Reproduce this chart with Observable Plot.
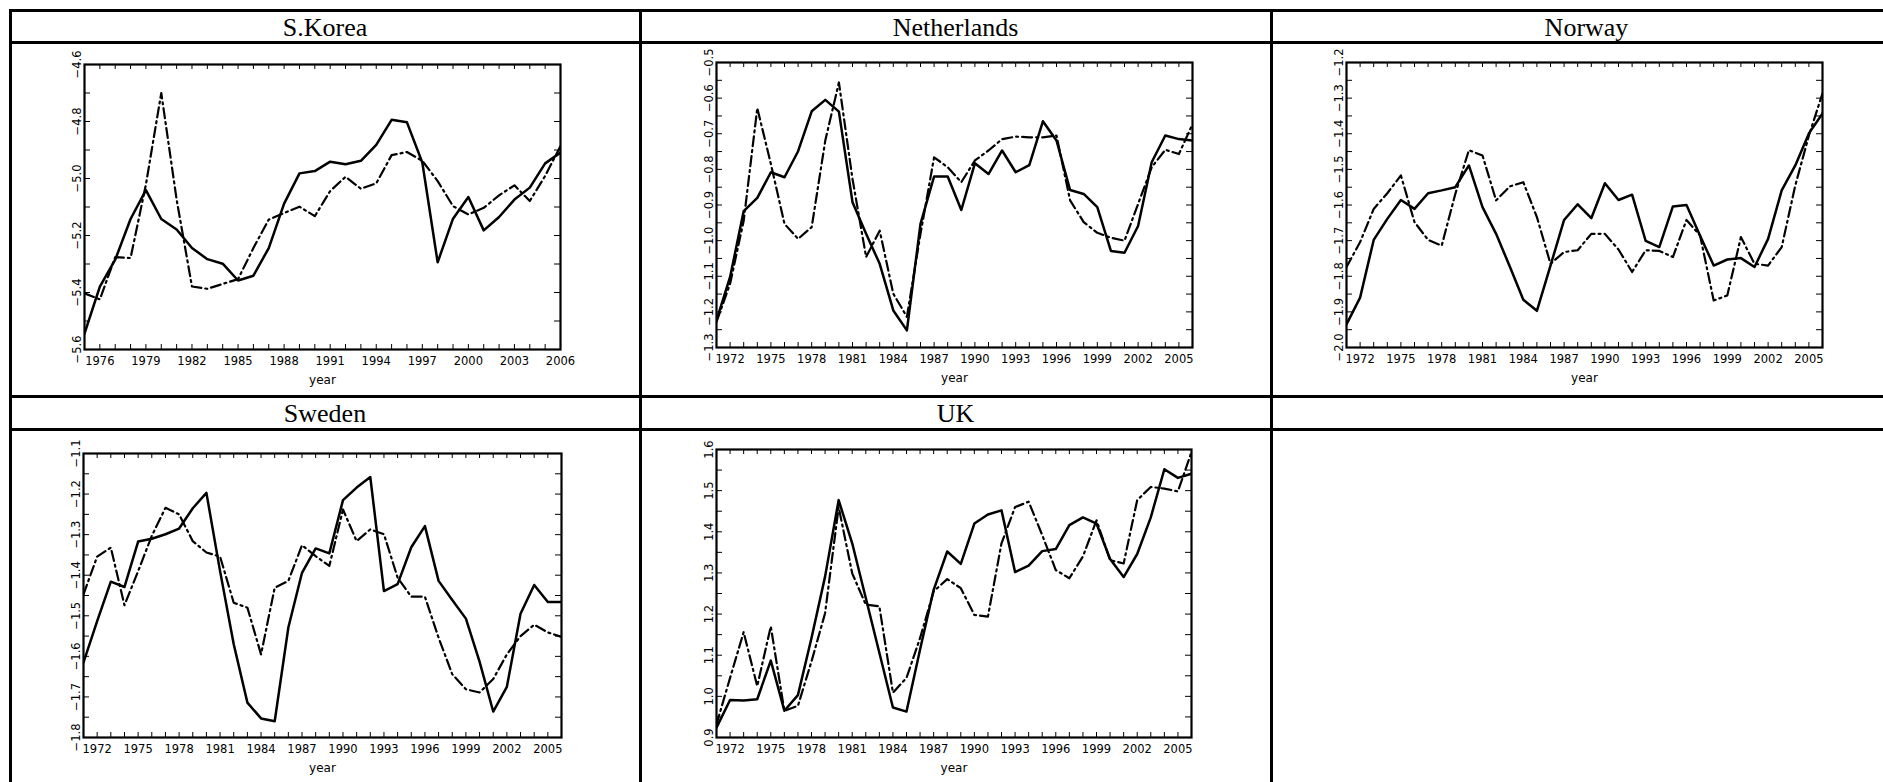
<!DOCTYPE html>
<html><head><meta charset="utf-8">
<script src="https://cdn.jsdelivr.net/npm/d3@7"></script>
<script src="https://cdn.jsdelivr.net/npm/@observablehq/plot@0.6"></script>
<style>
html,body{margin:0;padding:0;background:#fff;}
#page{position:relative;width:1883px;height:782px;overflow:hidden;background:#fff;}
.hl{position:absolute;height:3px;background:#000;}
.vl{position:absolute;width:3px;background:#000;}
.hdr{position:absolute;font-family:"Liberation Serif","DejaVu Serif",serif;font-size:26px;text-align:center;color:#000;white-space:nowrap;}
.panel{position:absolute;}
.panel svg{overflow:visible;}
</style></head><body><div id="page"></div>
<script>
// ---------------- DATA ----------------
const yearsKorea = d3.range(1975, 2007);
const yearsOther = d3.range(1971, 2007);

const koreaSolid = [-5.544,-5.379,-5.285,-5.142,-5.041,-5.142,-5.179,-5.244,-5.283,-5.299,-5.358,-5.341,-5.244,-5.088,-4.982,-4.974,-4.941,-4.950,-4.938,-4.882,-4.794,-4.803,-4.944,-5.294,-5.141,-5.065,-5.182,-5.135,-5.074,-5.032,-4.947,-4.909];
const koreaDash  = [-5.403,-5.424,-5.276,-5.279,-5.021,-4.700,-5.074,-5.379,-5.387,-5.370,-5.353,-5.244,-5.144,-5.121,-5.099,-5.132,-5.044,-4.994,-5.036,-5.017,-4.918,-4.907,-4.938,-5.009,-5.097,-5.126,-5.103,-5.059,-5.024,-5.079,-4.991,-4.886];

const nlSolid = [-1.224,-1.102,-0.917,-0.880,-0.808,-0.822,-0.749,-0.637,-0.605,-0.638,
                 -0.892,-0.981,-1.065,-1.196,-1.252,-0.953,-0.820,-0.820,-0.914,-0.783,
                 -0.813,-0.747,-0.808,-0.788,-0.665,-0.719,-0.858,-0.869,-0.906,-1.029,
                 -1.034,-0.959,-0.780,-0.705,-0.715,-0.719];
const nlDash  = [-1.228,-1.121,-0.944,-0.628,-0.785,-0.953,-0.995,-0.962,-0.719,-0.556,
                 -0.827,-1.046,-0.972,-1.149,-1.214,-0.981,-0.766,-0.794,-0.836,-0.775,
                 -0.747,-0.715,-0.708,-0.710,-0.710,-0.705,-0.887,-0.948,-0.978,-0.992,
                 -1.000,-0.897,-0.794,-0.745,-0.757,-0.673];

const noSolid = [-1.935,-1.860,-1.698,-1.639,-1.586,-1.611,-1.567,-1.559,-1.550,-1.489,
                 -1.606,-1.681,-1.772,-1.866,-1.897,-1.770,-1.642,-1.598,-1.637,-1.539,
                 -1.586,-1.571,-1.701,-1.718,-1.604,-1.600,-1.686,-1.770,-1.753,-1.749,
                 -1.774,-1.695,-1.559,-1.489,-1.399,-1.343];
const noDash  = [-1.774,-1.704,-1.611,-1.567,-1.517,-1.648,-1.698,-1.714,-1.569,-1.446,
                 -1.461,-1.587,-1.548,-1.536,-1.634,-1.765,-1.732,-1.727,-1.681,-1.681,
                 -1.725,-1.788,-1.727,-1.729,-1.746,-1.642,-1.686,-1.868,-1.854,-1.690,
                 -1.765,-1.770,-1.718,-1.545,-1.405,-1.287];

const seSolid = [-1.615,-1.513,-1.416,-1.429,-1.317,-1.310,-1.299,-1.285,-1.235,-1.197,
                 -1.390,-1.570,-1.714,-1.753,-1.760,-1.529,-1.394,-1.334,-1.346,-1.215,
                 -1.184,-1.158,-1.439,-1.422,-1.331,-1.279,-1.414,-1.461,-1.507,-1.613,
                 -1.736,-1.675,-1.495,-1.424,-1.466,-1.466];
const seDash  = [-1.447,-1.354,-1.332,-1.474,-1.390,-1.303,-1.234,-1.250,-1.316,-1.344,
                 -1.354,-1.468,-1.480,-1.595,-1.431,-1.414,-1.326,-1.353,-1.377,-1.238,
                 -1.316,-1.287,-1.299,-1.406,-1.453,-1.453,-1.554,-1.644,-1.681,-1.689,
                 -1.656,-1.595,-1.550,-1.522,-1.541,-1.552];

const ukSolid = [0.924,0.991,0.990,0.993,1.087,0.965,1.003,1.142,1.291,1.477,
                 1.372,1.239,1.106,0.973,0.963,1.114,1.259,1.352,1.322,1.420,
                 1.442,1.452,1.302,1.318,1.353,1.358,1.416,1.435,1.420,1.334,
                 1.290,1.346,1.435,1.552,1.531,1.541];
const ukDash  = [0.932,1.045,1.156,1.025,1.170,0.965,0.977,1.085,1.202,1.460,
                 1.299,1.223,1.219,1.009,1.045,1.142,1.255,1.285,1.263,1.198,
                 1.194,1.372,1.460,1.473,1.392,1.307,1.287,1.340,1.428,1.331,
                 1.323,1.477,1.509,1.505,1.498,1.594];

// tick labels
const koreaXLabels = [1976,1979,1982,1985,1988,1991,1994,1997,2000,2003,2006];
const otherXLabels = [1972,1975,1978,1981,1984,1987,1990,1993,1996,1999,2002,2005];
const koreaYLabels = [-5.6,-5.4,-5.2,-5.0,-4.8,-4.6];
const nlYLabels = [-1.3,-1.2,-1.1,-1.0,-0.9,-0.8,-0.7,-0.6,-0.5];
const noYLabels = [-2.0,-1.9,-1.8,-1.7,-1.6,-1.5,-1.4,-1.3,-1.2];
const seYLabels = [-1.8,-1.7,-1.6,-1.5,-1.4,-1.3,-1.2,-1.1];
const ukYLabels = [0.9,1.0,1.1,1.2,1.3,1.4,1.5,1.6];
const koreaYTicks = d3.range(-56, -45).map(v => v / 10);
const nlYTicks = d3.range(-26, -9).map(v => v / 20);
const noYTicks = d3.range(-40, -23).map(v => v / 20);
const seYTicks = d3.range(-36, -21).map(v => v / 20);
const ukYTicks = d3.range(18, 33).map(v => v / 20);

const countries = ["S.Korea","Netherlands","Norway","Sweden","UK"];

// ---------------- LAYOUT ----------------
const page = document.getElementById("page");
const colX = [10, 640, 1271, 1902];
const rowY = [10, 42, 396, 429];
function hline(y){ const d=document.createElement("div"); d.className="hl"; d.style.left=(colX[0]-1)+"px"; d.style.width="2000px"; d.style.top=(y-1)+"px"; page.appendChild(d); }
function vline(x){ const d=document.createElement("div"); d.className="vl"; d.style.left=(x-1)+"px"; d.style.top=(rowY[0]-1)+"px"; d.style.height="900px"; page.appendChild(d); }
rowY.forEach(hline);
colX.forEach(vline);
function header(text, col, row){
  const d=document.createElement("div"); d.className="hdr";
  d.style.left=colX[col]+"px"; d.style.width=(colX[col+1]-colX[col])+"px";
  const top = row===0 ? rowY[0] : rowY[2];
  d.style.top=(top+2)+"px"; d.style.lineHeight="32px";
  d.textContent=text; page.appendChild(d);
}
header(countries[0],0,0); header(countries[1],1,0); header(countries[2],2,0);
header(countries[3],0,1); header(countries[4],1,1);

const fmt = v => v.toFixed(1).replace("-", "\u2212");

const panels = [
  {years: yearsKorea, a: koreaSolid, b: koreaDash, xDomain:[1975,2006], yDomain:[-5.6,-4.6], xLabels: koreaXLabels, yLabels: koreaYLabels, yTicks: koreaYTicks, frame:[84,64,560,349]},
  {years: yearsOther, a: nlSolid, b: nlDash, xDomain:[1971,2006], yDomain:[-1.3,-0.5], xLabels: otherXLabels, yLabels: nlYLabels, yTicks: nlYTicks, frame:[716,62,1192,347]},
  {years: yearsOther, a: noSolid, b: noDash, xDomain:[1971,2006], yDomain:[-2.0,-1.2], xLabels: otherXLabels, yLabels: noYLabels, yTicks: noYTicks, frame:[1346,62,1822,347]},
  {years: yearsOther, a: seSolid, b: seDash, xDomain:[1971,2006], yDomain:[-1.8,-1.1], xLabels: otherXLabels, yLabels: seYLabels, yTicks: seYTicks, frame:[83,453,561,737]},
  {years: yearsOther, a: ukSolid, b: ukDash, xDomain:[1971,2006], yDomain:[0.9,1.6], xLabels: otherXLabels, yLabels: ukYLabels, yTicks: ukYTicks, frame:[716,449,1191,737]},
];

const mL = 40, mR = 20, mT = 20, mB = 50;
panels.forEach(p => {
  const W = p.frame[2]-p.frame[0], H = p.frame[3]-p.frame[1];
  const aData = p.years.map((yr,i)=>({year:yr, value:p.a[i]}));
  const bData = p.years.map((yr,i)=>({year:yr, value:p.b[i]}));
  const tickYears = d3.range(p.xDomain[0], p.xDomain[1]+1);
  const chart = Plot.plot({
    width: W+mL+mR, height: H+mT+mB,
    marginLeft: mL, marginRight: mR, marginTop: mT, marginBottom: mB,
    style: {fontFamily: "'DejaVu Sans', sans-serif", fontSize: "11.5px", background: "transparent", color: "#000"},
    x: {domain: p.xDomain, label: null, axis: null},
    y: {domain: p.yDomain, label: null, axis: null},
    marks: [
      Plot.tickX(tickYears, {x: d=>d, insetTop: H-5, stroke: "#000", strokeWidth: 1}),
      Plot.tickX(tickYears, {x: d=>d, insetBottom: H-5, stroke: "#000", strokeWidth: 1}),
      Plot.tickY(p.yTicks, {y: d=>d, insetRight: W-6, stroke: "#000", strokeWidth: 1}),
      Plot.tickY(p.yTicks, {y: d=>d, insetLeft: W-6, stroke: "#000", strokeWidth: 1}),
      Plot.lineY(aData, {x: "year", y: "value", stroke: "#000", strokeWidth: 2.5, clip: true}),
      Plot.lineY(bData, {x: "year", y: "value", stroke: "#000", strokeWidth: 2.2, strokeDasharray: "10,4,2,4", clip: true}),
      Plot.frame({stroke: "#000", strokeWidth: 2.2}),
      Plot.text(p.xLabels, {x: d=>d, frameAnchor: "bottom", dy: 7, lineAnchor: "top", text: d=>String(d), fontSize: 11.5, letterSpacing: "0.3px"}),
      Plot.text(p.yLabels, {y: d=>d, frameAnchor: "left", rotate: -90, dx: -4, textAnchor: "middle", lineAnchor: "bottom", text: d=>fmt(d), fontSize: 11.5}),
      Plot.text(["year"], {frameAnchor: "bottom", dy: 31, lineAnchor: "middle", text: d=>d, fontSize: 12})
    ]
  });
  const wrap = document.createElement("div");
  wrap.className = "panel";
  wrap.style.left = (p.frame[0]-mL)+"px";
  wrap.style.top = (p.frame[1]-mT)+"px";
  wrap.appendChild(chart);
  page.appendChild(wrap);
});
</script></body></html>
